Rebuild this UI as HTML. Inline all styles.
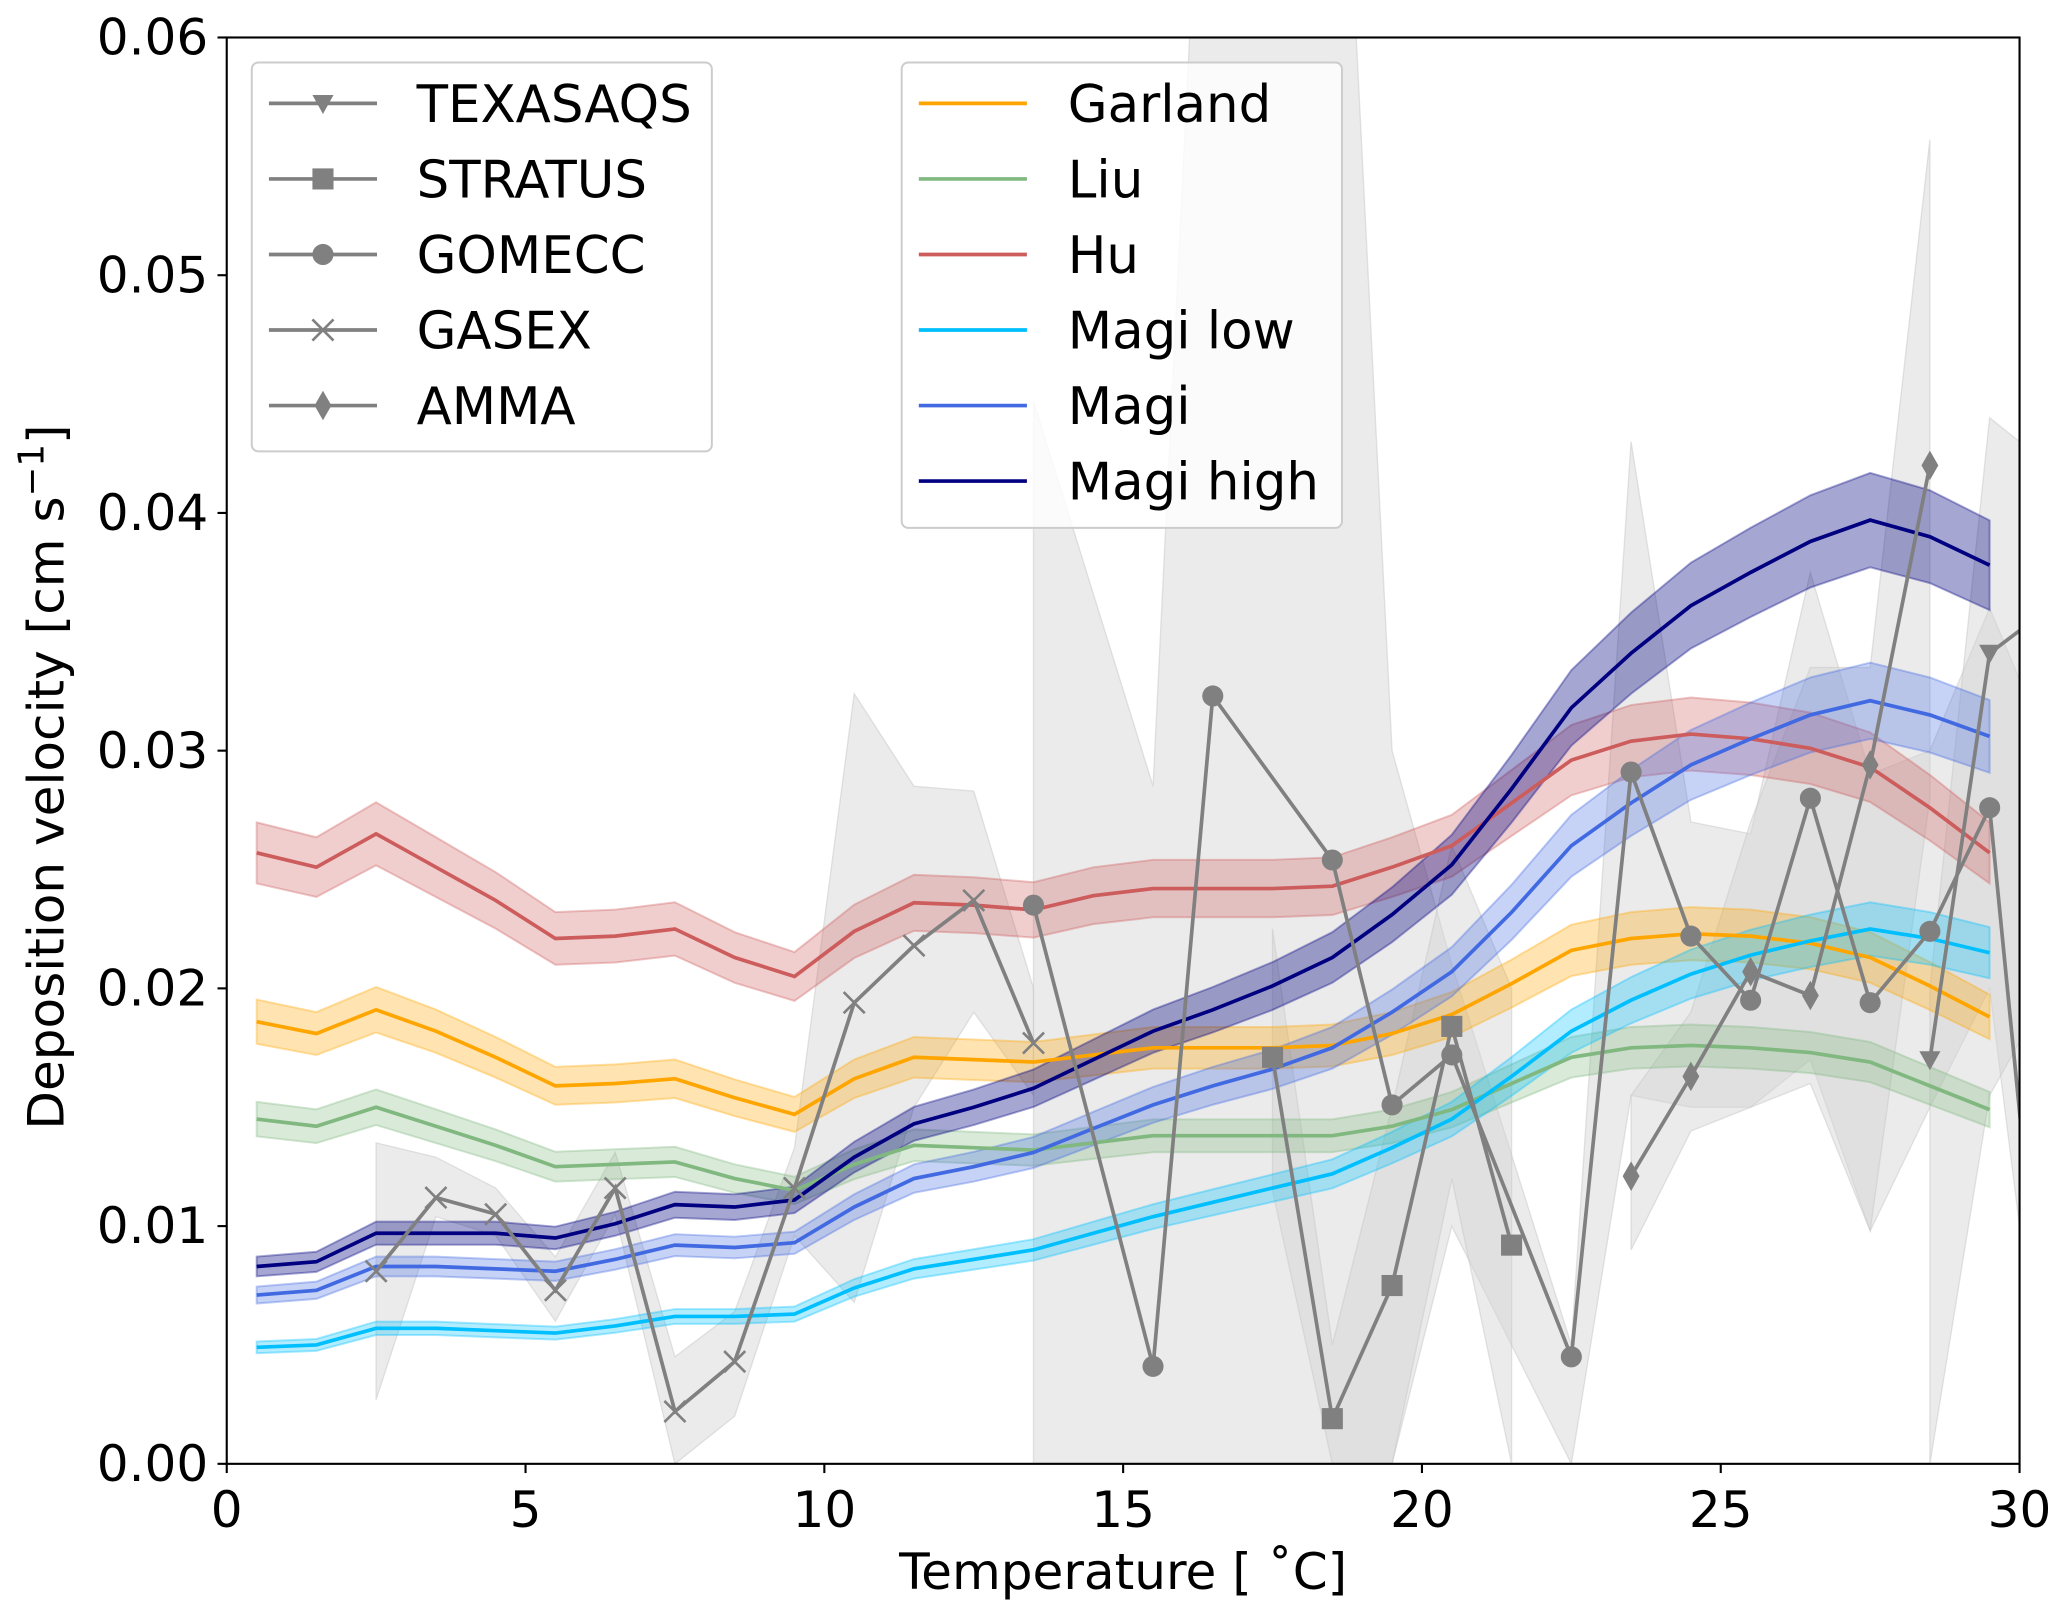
<!DOCTYPE html>
<html><head><meta charset="utf-8"><style>
html,body{margin:0;padding:0;background:#fff;}
svg{display:block;font-family:"DejaVu Sans","Liberation Sans",sans-serif;}
</style></head><body>
<svg id="chart" width="2067" height="1616" viewBox="0 0 1568 1225" xmlns="http://www.w3.org/2000/svg">
<defs><clipPath id="pc"><rect x="172" y="28" width="1360" height="1082"/></clipPath></defs>
<g id="plot" clip-path="url(#pc)"></g>
<g id="axes"></g>
<g id="legends"></g>
</svg>
<script>
// ---- data ----
const modelX = [0.5,1.5,2.5,3.5,4.5,5.5,6.5,7.5,8.5,9.5,10.5,11.5,12.5,13.5,14.5,15.5,16.5,17.5,18.5,19.5,20.5,21.5,22.5,23.5,24.5,25.5,26.5,27.5,28.5,29.5];
const garland = [0.0186,0.0181,0.0191,0.0182,0.0171,0.0159,0.0160,0.0162,0.0154,0.0147,0.0162,0.0171,0.0170,0.0169,0.0172,0.0175,0.0175,0.0175,0.0176,0.0181,0.0189,0.0202,0.0216,0.0221,0.0223,0.0222,0.0219,0.0213,0.0201,0.0188];
const liu = [0.0145,0.0142,0.0150,0.0142,0.0134,0.0125,0.0126,0.0127,0.0120,0.0115,0.0126,0.0134,0.0133,0.0132,0.0135,0.0138,0.0138,0.0138,0.0138,0.0142,0.0149,0.0160,0.0171,0.0175,0.0176,0.0175,0.0173,0.0169,0.0159,0.0149];
const hu = [0.0257,0.0251,0.0265,0.0251,0.0237,0.0221,0.0222,0.0225,0.0213,0.0205,0.0224,0.0236,0.0235,0.0233,0.0239,0.0242,0.0242,0.0242,0.0243,0.0251,0.0260,0.0278,0.0296,0.0304,0.0307,0.0305,0.0301,0.0293,0.0276,0.0257];
const magiLow = [0.0049,0.0050,0.0057,0.0057,0.0056,0.0055,0.0058,0.0062,0.0062,0.0063,0.0074,0.0082,0.0086,0.0090,0.0097,0.0104,0.0110,0.0116,0.0122,0.0133,0.0145,0.0163,0.0182,0.0195,0.0206,0.0214,0.0220,0.0225,0.0221,0.0215];
const magi = [0.0071,0.0073,0.0083,0.0083,0.0082,0.0081,0.0086,0.0092,0.0091,0.0093,0.0108,0.0120,0.0125,0.0131,0.0141,0.0151,0.0159,0.0166,0.0175,0.0190,0.0207,0.0232,0.0260,0.0278,0.0294,0.0305,0.0315,0.0321,0.0315,0.0306];
const magiHigh = [0.0083,0.0085,0.0097,0.0097,0.0097,0.0095,0.0101,0.0109,0.0108,0.0111,0.0129,0.0143,0.0150,0.0158,0.0170,0.0182,0.0191,0.0201,0.0213,0.0231,0.0252,0.0284,0.0318,0.0341,0.0361,0.0375,0.0388,0.0397,0.0390,0.0378];
const bandFrac = [0.05,0.05,0.05,0.05,0.05,0.05];

const gasexX = [2.5,3.5,4.5,5.5,6.5,7.5,8.5,9.5,10.5,11.5,12.5,13.5];
const gasexY = [0.0081,0.0112,0.0105,0.0073,0.0116,0.0022,0.0043,0.0116,0.0194,0.0218,0.0237,0.0177];
const gasexLo = [0.0027,0.0104,0.0096,0.0060,0.0105,0.0000,0.0020,0.0096,0.0068,0.0150,0.0190,0.0155];
const gasexHi = [0.0135,0.0129,0.0116,0.0087,0.0131,0.0045,0.0064,0.0133,0.0324,0.0285,0.0283,0.0200];
const gomeccX = [13.5,15.5,16.5,18.5,19.5,20.5,22.5,23.5,24.5,25.5,26.5,27.5,28.5,29.5,30.5];
const gomeccY = [0.0235,0.0041,0.0323,0.0254,0.0151,0.0172,0.0045,0.0291,0.0222,0.0195,0.0280,0.0194,0.0224,0.0276,0.0020];
const gomeccLo = [0.0000,0.0000,0.0000,0.0000,0.0000,0.0100,0.0000,0.0155,0.0150,0.0150,0.0170,0.0098,0.0150,0.0200,0.0000];
const gomeccHi = [0.0447,0.0285,0.0800,0.0800,0.0300,0.0210,0.0050,0.0430,0.0270,0.0265,0.0375,0.0290,0.0300,0.0360,0.0300];
const stratusX = [17.5,18.5,19.5,20.5,21.5];
const stratusY = [0.0171,0.0019,0.0075,0.0184,0.0092];
const stratusLo = [0.0115,0.0000,0.0000,0.0120,0.0000];
const stratusHi = [0.0225,0.0050,0.0150,0.0260,0.0200];
const ammaX = [23.5,24.5,25.5,26.5,27.5,28.5];
const ammaY = [0.0121,0.0163,0.0207,0.0197,0.0294,0.0420];
const ammaLo = [0.0090,0.0140,0.0150,0.0160,0.0098,0.0280];
const ammaHi = [0.0155,0.0190,0.0270,0.0335,0.0335,0.0557];
const texasX = [28.5,29.5,30.5];
const texasY = [0.0170,0.0341,0.0360];
const texasLo = [0.0000,0.0155,0.0200];
const texasHi = [0.0200,0.0440,0.0420];

const xTicks = [0,5,10,15,20,25,30];
const yTicks = [0,0.01,0.02,0.03,0.04,0.05,0.06];
const yTickLabels = ["0.00","0.01","0.02","0.03","0.04","0.05","0.06"];

// ---- axis functions ----
const X0=172,X1=1532,Y0=1110,Y1=28;
const sx = v => X0 + (v-0)/(30-0)*(X1-X0);
const sy = v => Y0 - (v-0)/(0.06-0)*(Y0-Y1);
const NS="http://www.w3.org/2000/svg";
function mk(tag, attrs, parent){const e=document.createElementNS(NS,tag);for(const k in attrs)e.setAttribute(k,attrs[k]);parent.appendChild(e);return e;}
const plot=document.getElementById('plot'), axes=document.getElementById('axes'), legends=document.getElementById('legends');
function pts(xs,ys){return xs.map((x,i)=>sx(x).toFixed(1)+','+sy(ys[i]).toFixed(1)).join(' ');}
function bandPts(xs,lo,hi){return pts(xs,hi)+' '+pts(xs.slice().reverse(),lo.slice().reverse());}

const obs = [
 ['gasex',gasexX,gasexY,gasexLo,gasexHi,'x'],
 ['gomecc',gomeccX,gomeccY,gomeccLo,gomeccHi,'o'],
 ['stratus',stratusX,stratusY,stratusLo,stratusHi,'s'],
 ['amma',ammaX,ammaY,ammaLo,ammaHi,'d'],
 ['texasaqs',texasX,texasY,texasLo,texasHi,'v']
];
obs.forEach(o=>{
  const b=mk('polygon',{points:bandPts(o[1],o[3],o[4]),fill:'#d3d3d3','fill-opacity':0.45,stroke:'#c8c8c8','stroke-opacity':0.5,'stroke-width':1},plot);
  
  
});

const models=[['garland',garland,'#FFA500'],['liu',liu,'#80b880'],['hu',hu,'#CD5C5C'],['magi-low',magiLow,'#00BFFF'],['magi',magi,'#4169E1'],['magi-high',magiHigh,'#000080']];
models.forEach((m,i)=>{
  const lo=m[1].map(v=>v*(1-bandFrac[i])), hi=m[1].map(v=>v*(1+bandFrac[i]));
  const b=mk('polygon',{points:bandPts(modelX,lo,hi),fill:m[2],'fill-opacity':m[0]==='magi-high'?0.35:0.3,stroke:m[2],'stroke-opacity':0.35,'stroke-width':1.5},plot);
  
  
});
models.forEach(m=>{
  const l=mk('polyline',{points:pts(modelX,m[1]),fill:'none',stroke:m[2],'stroke-width':2.8},plot);
  
  
});

function marker(type,cx,cy,parent,sz){
  sz=sz||8;let e;
  if(type==='o') e=mk('circle',{cx:cx,cy:cy,r:sz,fill:'#808080'},parent);
  else if(type==='s') e=mk('rect',{x:cx-sz,y:cy-sz,width:2*sz,height:2*sz,fill:'#808080'},parent);
  else if(type==='d') e=mk('polygon',{points:`${cx},${cy-sz*1.4} ${cx+sz*0.8},${cy} ${cx},${cy+sz*1.4} ${cx-sz*0.8},${cy}`,fill:'#808080'},parent);
  else if(type==='v') e=mk('polygon',{points:`${cx-sz},${cy-sz*0.8} ${cx+sz},${cy-sz*0.8} ${cx},${cy+sz}`,fill:'#808080'},parent);
  else e=mk('path',{d:`M${cx-sz},${cy-sz}L${cx+sz},${cy+sz}M${cx-sz},${cy+sz}L${cx+sz},${cy-sz}`,stroke:'#808080','stroke-width':2,fill:'none'},parent);
  return e;
}
obs.forEach(o=>{
  const l=mk('polyline',{points:pts(o[1],o[2]),fill:'none',stroke:'#808080','stroke-width':2.8},plot);
  
  
  o[1].forEach((x,i)=>{
    const e=marker(o[5],sx(x),sy(o[2][i]),plot);
    
    
  });
});

const fr=mk('rect',{x:X0,y:Y1,width:X1-X0,height:Y0-Y1,fill:'none',stroke:'#000','stroke-width':1.6},axes);


xTicks.forEach(t=>{
  mk('line',{x1:sx(t),x2:sx(t),y1:Y0,y2:Y0+7,stroke:'#000','stroke-width':1.6},axes);
  const tx=mk('text',{x:sx(t),y:Y0+48,'font-size':38,'text-anchor':'middle',fill:'#000'},axes);
  tx.textContent=t;
  
  
});
yTicks.forEach((t,i)=>{
  mk('line',{x1:X0-7,x2:X0,y1:sy(t),y2:sy(t),stroke:'#000','stroke-width':1.6},axes);
  const tx=mk('text',{x:X0-14,y:sy(t)+13,'font-size':38,'text-anchor':'end',fill:'#000'},axes);
  tx.textContent=yTickLabels[i];
  
  
});
const xt=mk('text',{x:(X0+X1)/2,y:1205,'font-size':38,'text-anchor':'middle',fill:'#000'},axes);
xt.textContent='Temperature [ ˚C]';


const yt=mk('text',{x:0,y:0,'font-size':38,'text-anchor':'middle',fill:'#000',transform:`translate(48,${(Y0+Y1)/2+20}) rotate(-90)`},axes);
yt.innerHTML='Deposition velocity [cm s<tspan dy="-15" font-size="27">−1</tspan><tspan dy="15">]</tspan>';



const obsNames=[['TEXASAQS','v'],['STRATUS','s'],['GOMECC','o'],['GASEX','x'],['AMMA','d']];
const modNames=[['Garland','#FFA500'],['Liu','#80b880'],['Hu','#CD5C5C'],['Magi low','#00BFFF'],['Magi','#4169E1'],['Magi high','#000080']];
const lb1=mk('rect',{x:191,y:47,width:349,height:295,rx:5,fill:'#fff','fill-opacity':0.8,stroke:'#ccc','stroke-width':1.5},legends);


obsNames.forEach((n,i)=>{
  const y=78+i*57.3;
  mk('line',{x1:204,x2:286,y1:y,y2:y,stroke:'#808080','stroke-width':2.8},legends);
  marker(n[1],245,y,legends,8);
  const t=mk('text',{x:316,y:y+14,'font-size':39,fill:'#000'},legends);
  t.textContent=n[0];
  
  
});
const lb2=mk('rect',{x:684,y:47,width:334,height:353,rx:5,fill:'#fff','fill-opacity':0.8,stroke:'#ccc','stroke-width':1.5},legends);


modNames.forEach((n,i)=>{
  const y=78+i*57.3;
  mk('line',{x1:697,x2:779,y1:y,y2:y,stroke:n[1],'stroke-width':2.8},legends);
  const t=mk('text',{x:810,y:y+14,'font-size':39,fill:'#000'},legends);
  t.textContent=n[0];
  
  
});
</script>
</body></html>
